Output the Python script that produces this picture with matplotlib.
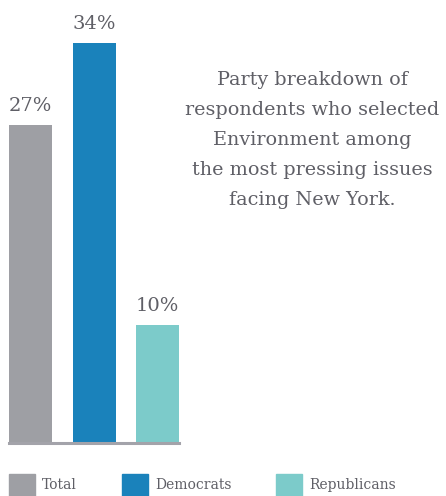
import matplotlib
matplotlib.use("Agg")
import matplotlib.pyplot as plt
from matplotlib.patches import Patch

# Chart data
groups = ["Total", "Democrats", "Republicans"]
shares = [27, 34, 10]
colors = ["#9e9fa4", "#1a82bb", "#7ccbca"]
title = ("Party breakdown of\nrespondents who selected\nEnvironment among\n"
         "the most pressing issues\nfacing New York.")

W, H = 446, 496
fig = plt.figure(figsize=(W / 100, H / 100), dpi=100)
plt.rcParams['font.family'] = ['DejaVu Serif']
txt_color = "#5f5f66"

# axes placed so that bars span x 9..179 px and the baseline sits at y 443 px
ax = fig.add_axes([9 / W, (H - 443) / H, 170 / W, 400 / H])
pos = list(range(len(groups)))
bw = 43 / 63.5
ax.bar(pos, shares, width=bw, color=colors)
ax.set_xlim(-bw / 2, len(groups) - 1 + bw / 2)
ax.set_ylim(0, max(shares))
ax.axis('off')
ax.axhline(0, color="#a3a3aa", lw=2.2, clip_on=False)

for p, v in zip(pos, shares):
    ax.annotate(f"{v}%", (p, v), xytext=(0, 10.3), textcoords="offset points",
                ha="center", va="baseline", fontsize=14, color=txt_color,
                annotation_clip=False)

fig.text(312 / W, 1 - 140 / H, title, ha="center", va="center",
         fontsize=13.8, color=txt_color, linespacing=1.85)

handles = [Patch(color=c, label=g) for g, c in zip(groups, colors)]
fig.legend(handles=handles, loc="lower left", bbox_to_anchor=(9 / W, 0),
           ncol=3, frameon=False, fontsize=10, borderpad=0, borderaxespad=0,
           handlelength=1.87, handleheight=2.1, handletextpad=0.5,
           columnspacing=3.25, labelcolor=txt_color)

fig.savefig("out.png", dpi=100)
